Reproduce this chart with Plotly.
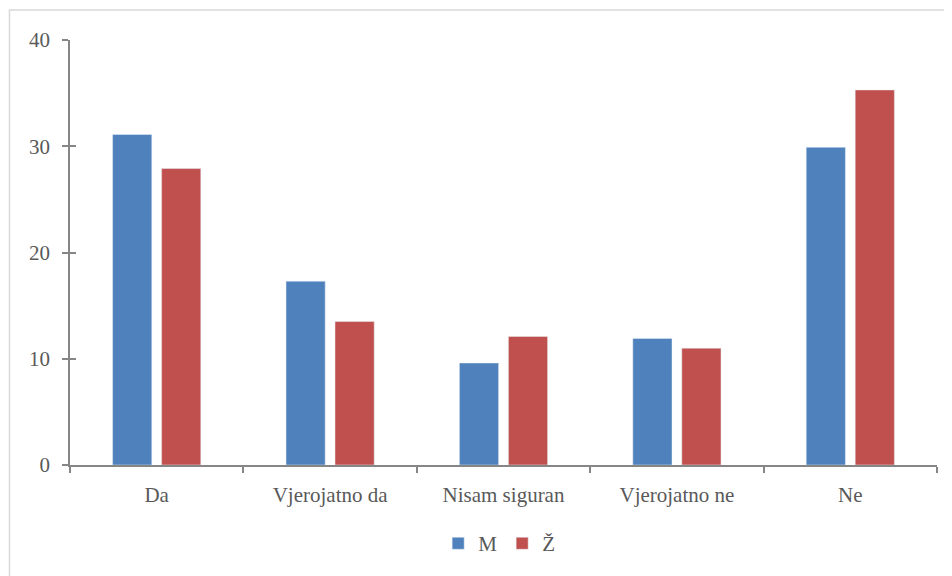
import plotly.graph_objects as go

categories = ["Da", "Vjerojatno da", "Nisam siguran", "Vjerojatno ne", "Ne"]
m_values = [31.1, 17.3, 9.6, 11.9, 29.9]
z_values = [27.9, 13.5, 12.1, 11.0, 35.3]
y_ticks = [0, 10, 20, 30, 40]

fig = go.Figure()
fig.add_trace(go.Bar(name="M", x=categories, y=m_values, marker_color="#4F81BD"))
fig.add_trace(go.Bar(name="Ž", x=categories, y=z_values, marker_color="#C0504D"))

axis_col = "#868686"
txt_col = "#595959"
serif = "Liberation Serif, Times New Roman, Tinos, DejaVu Serif, serif"
fig.update_layout(
    width=944, height=568,
    margin=dict(l=62, r=15, t=32, b=102),
    paper_bgcolor="white", plot_bgcolor="white",
    barmode="group", bargap=0.435, bargroupgap=0.2,
    font=dict(family=serif, color=txt_col),
    legend=dict(orientation="h", x=0.495, xanchor="center", y=-0.185, yanchor="middle",
                font=dict(family=serif, size=21, color=txt_col),
                itemwidth=30, tracegroupgap=0),
    showlegend=True,
    xaxis=dict(showline=True, linecolor=axis_col, linewidth=1.5, ticks="outside",
               tickson="boundaries", ticklen=6, tickcolor=axis_col, tickwidth=1.5,
               tickfont=dict(family=serif, size=21, color=txt_col),
               showgrid=False, zeroline=False, ticklabelstandoff=10),
    yaxis=dict(range=[0, 40], tickvals=y_ticks, showline=True, linecolor=axis_col,
               linewidth=1.5, ticks="outside", ticklen=6, tickcolor=axis_col, tickwidth=1.5,
               tickfont=dict(family=serif, size=21, color=txt_col),
               showgrid=False, zeroline=False, ticklabelstandoff=8),
    yaxis2=dict(range=[0, 40], tickvals=y_ticks, overlaying="y", side="left",
                ticks="inside", ticklen=6, tickcolor=axis_col, tickwidth=1.5,
                showticklabels=False, showgrid=False, zeroline=False, showline=False),
    shapes=[dict(type="rect", xref="paper", yref="paper", x0=-0.0698, x1=1.2,
                 y0=-0.6, y1=1.0704, line=dict(color="#D9D9D9", width=1.5),
                 fillcolor="rgba(0,0,0,0)", layer="below")],
)
fig.add_trace(go.Scatter(x=[], y=[], yaxis="y2", showlegend=False))
fig.write_html("out.html")
